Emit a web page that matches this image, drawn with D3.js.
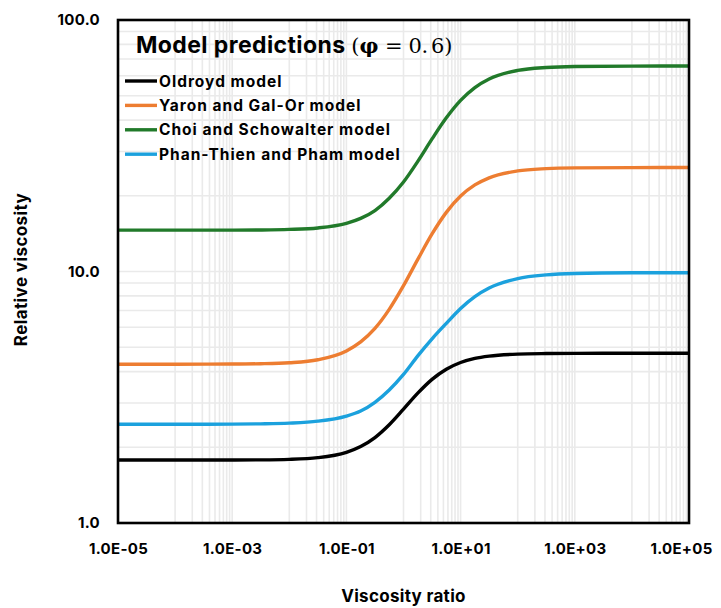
<!DOCTYPE html>
<html>
<head>
<meta charset="utf-8">
<script src="https://cdn.jsdelivr.net/npm/d3@7/dist/d3.min.js"></script>
<style>
  html, body { margin: 0; padding: 0; background: #fff; }
  svg { display: block; }
  text { font-family: Inter, "Liberation Sans", Arial, sans-serif; font-weight: 700; fill: #000; }
</style>
</head>
<body>
<svg id="chart" width="721" height="608"></svg>
<script>
// Viscosity ratio K (half-decade steps at the ends, quarter-decade through the transition)
const viscosityRatio = [
  1e-5, 1e-4, 1e-3, 3.162e-3, 1e-2, 3.162e-2, 1e-1, 1.778e-1, 3.162e-1, 5.623e-1,
  1, 1.778, 3.162, 5.623, 10, 17.78, 31.62, 100, 316.2, 1000, 1e4, 1e5
];

// Relative viscosity predicted by each model at phi = 0.6
const oldroyd = [
  1.78, 1.78, 1.781, 1.783, 1.791, 1.819, 1.911, 2.015, 2.187, 2.459,
  2.836, 3.282, 3.724, 4.087, 4.347, 4.512, 4.609, 4.695, 4.719, 4.727, 4.73, 4.73
];
const yaronGalOr = [
  4.28, 4.28, 4.286, 4.298, 4.337, 4.458, 4.834, 5.25, 5.94, 7.07,
  8.78, 11.17, 14.10, 17.18, 19.95, 22.09, 23.58, 25.11, 25.64, 25.82, 25.89, 25.9
];
const choiSchowalter = [
  14.6, 14.6, 14.61, 14.63, 14.70, 14.90, 15.54, 16.26, 17.47, 19.55,
  22.69, 27.41, 33.66, 40.85, 47.93, 53.89, 58.28, 63.03, 64.76, 65.33, 65.57, 65.6
];
const phanThienPham = [
  2.47, 2.47, 2.473, 2.479, 2.495, 2.540, 2.663, 2.789, 3.02, 3.38,
  3.90, 4.62, 5.40, 6.22, 7.13, 7.95, 8.60, 9.375, 9.699, 9.821, 9.881, 9.889
];

const seriesNames = [
  "Oldroyd model",
  "Yaron and Gal-Or model",
  "Choi and Schowalter model",
  "Phan-Thien and Pham model"
];
const seriesColors = ["#000000", "#ed7d31", "#217a2a", "#1ba1dd"];
const seriesValues = [oldroyd, yaronGalOr, choiSchowalter, phanThienPham];

const xTickValues = [1e-5, 1e-3, 1e-1, 1e1, 1e3, 1e5];
const xTickLabels = ["1.0E-05", "1.0E-03", "1.0E-01", "1.0E+01", "1.0E+03", "1.0E+05"];
const yTickValues = [1, 10, 100];
const yTickLabels = ["1.0", "10.0", "100.0"];

const W = 721, H = 608;
const plot = { left: 118, top: 20, right: 689, bottom: 523 };

const svg = d3.select("#chart");

const x = d3.scaleLog().domain([1e-5, 1e5]).range([plot.left, plot.right]);
const y = d3.scaleLog().domain([1, 100]).range([plot.bottom, plot.top]);

// Gridlines: x axis uses base-100 majors with minor lines in the upper decade of each span
const xGrid = [];
for (let e = -5; e < 5; e += 2) {
  for (let m = 1; m <= 9; m++) xGrid.push(m * Math.pow(10, e + 1));
}
xTickValues.forEach(v => xGrid.push(v));
const yGrid = [];
for (let e = 0; e < 2; e++) {
  for (let m = 1; m <= 9; m++) yGrid.push(m * Math.pow(10, e));
}
yGrid.push(100);

const grid = svg.append("g").attr("class", "grid");
grid.selectAll("line.gx").data(xGrid).join("line")
  .attr("class", "gx")
  .attr("x1", d => x(d)).attr("x2", d => x(d))
  .attr("y1", plot.top).attr("y2", plot.bottom)
  .attr("stroke", "#eaeaea").attr("stroke-width", 1.6);
grid.selectAll("line.gy").data(yGrid).join("line")
  .attr("class", "gy")
  .attr("x1", plot.left).attr("x2", plot.right)
  .attr("y1", d => y(d)).attr("y2", d => y(d))
  .attr("stroke", "#eaeaea").attr("stroke-width", 1.6);

// Model curves
const line = d3.line()
  .x(d => x(d[0]))
  .y(d => y(d[1]))
  .curve(d3.curveMonotoneX);

const curves = svg.append("g").attr("class", "curves");
seriesValues.forEach((vals, i) => {
  const pts = viscosityRatio.map((k, j) => [k, vals[j]]);
  curves.append("path")
    .datum(pts)
    .attr("d", line)
    .attr("fill", "none")
    .attr("stroke", seriesColors[i])
    .attr("stroke-width", 3.4)
    .attr("stroke-linejoin", "round");
});

// Plot frame
svg.append("rect")
  .attr("x", plot.left).attr("y", plot.top)
  .attr("width", plot.right - plot.left).attr("height", plot.bottom - plot.top)
  .attr("fill", "none").attr("stroke", "#000").attr("stroke-width", 2.6);

// Axes (labels only; the frame carries the axis lines)
const xAxis = d3.axisBottom(x).tickValues(xTickValues)
  .tickFormat((d, i) => xTickLabels[i]).tickSize(0).tickPadding(0);
const gx = svg.append("g").attr("transform", `translate(0,${plot.bottom})`).call(xAxis);
gx.select(".domain").remove();
gx.selectAll("text")
  .attr("dy", null).attr("y", 31)
  .style("font-size", "15px")
  .style("letter-spacing", "0.3px")
  .attr("x", d => {
    const px = x(d);
    return Math.min(px, W - 40) - px;
  });

const yAxis = d3.axisLeft(y).tickValues(yTickValues)
  .tickFormat((d, i) => yTickLabels[i]).tickSize(0).tickPadding(18);
const gy = svg.append("g").attr("transform", `translate(${plot.left},0)`).call(yAxis);
gy.select(".domain").remove();
gy.selectAll("text").style("font-size", "15px").style("letter-spacing", "0.3px");

// Axis titles
svg.append("text")
  .attr("x", (plot.left + plot.right) / 2).attr("y", 602)
  .attr("text-anchor", "middle").style("font-size", "17px")
  .style("letter-spacing", "0.3px")
  .text("Viscosity ratio");
svg.append("text")
  .attr("transform", `translate(27,${(plot.top + plot.bottom) / 2 - 2}) rotate(-90)`)
  .attr("text-anchor", "middle").style("font-size", "17px")
  .style("letter-spacing", "0.4px")
  .text("Relative viscosity");

// Title
const serif = "'DejaVu Serif', 'Liberation Serif', serif";
const title = svg.append("text").attr("x", 136).attr("y", 53)
  .style("font-size", "23px").style("letter-spacing", "0.4px");
title.append("tspan").text("Model predictions ");
title.append("tspan").style("font-family", serif).style("font-size", "21px")
  .style("font-weight", 400).style("letter-spacing", "0px").text("(");
title.append("tspan").style("font-family", serif).style("font-size", "21px")
  .style("font-weight", 700).style("letter-spacing", "0px").text("φ");
title.append("tspan").style("font-family", serif).style("font-size", "21px")
  .style("font-weight", 400).style("letter-spacing", "-0.3px").text(" = 0.");
title.append("tspan").attr("dx", 3).style("font-family", serif).style("font-size", "21px")
  .style("font-weight", 400).style("letter-spacing", "0px").text("6)");

// Legend
const legend = svg.append("g").attr("class", "legend");
seriesNames.forEach((name, i) => {
  const ly = 81 + i * 24.4;
  legend.append("line")
    .attr("x1", 125).attr("x2", 157).attr("y1", ly).attr("y2", ly)
    .attr("stroke", seriesColors[i]).attr("stroke-width", 3.4);
  legend.append("text")
    .attr("x", 159).attr("y", ly + 5.5)
    .style("font-size", "15.5px")
    .style("letter-spacing", "1px")
    .text(name);
});
</script>
</body>
</html>
